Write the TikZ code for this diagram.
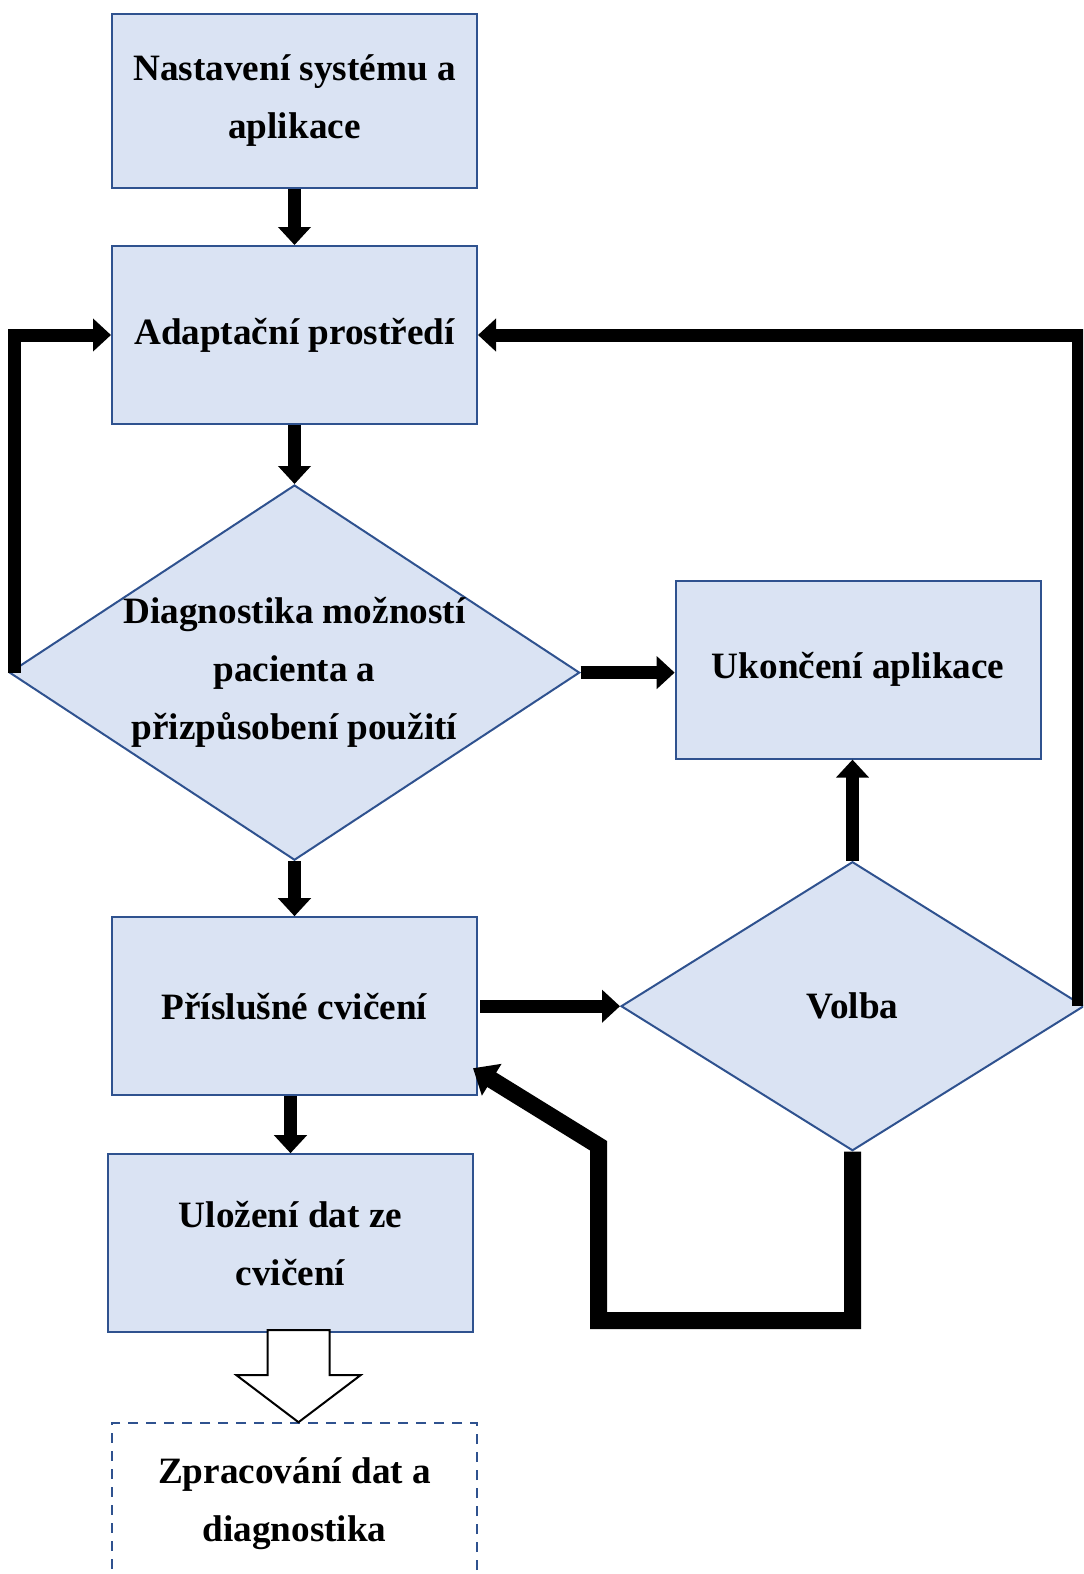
\documentclass[tikz,border=0pt]{standalone}
\usepackage{fontspec}
\setmainfont{Liberation Serif}
\usetikzlibrary{positioning,shapes.geometric,arrows.meta}
\definecolor{boxfill}{HTML}{DAE3F3}
\definecolor{boxline}{HTML}{2F528F}
\tikzset{
	blok/.style={draw=boxline, fill=boxfill, line width=1pt, minimum width=182.5pt, minimum height=89pt, align=center, inner sep=0pt},
	kosoctverec/.style={draw=boxline, fill=boxfill, line width=1pt, diamond, align=center, inner sep=0pt},
	sipka/.style={line width=6.5pt, -{Triangle[width=16pt,length=9pt]}},
	pismo/.style={font=\bfseries\fontsize{18.6}{29}\selectfont}
}

\begin{document}
\begin{tikzpicture}[x=0.5pt, y=-0.5pt, pismo]
	\useasboundingbox (0,0) rectangle (1083,1574);
	\clip (0,0) rectangle (1083,1574);
	\node [blok, minimum height=87pt] (nast) at (294.5,101) {Nastavení systému a\\aplikace};
	\node [blok, below=28pt of nast] (adapt) {Adaptační prostředí};
	\node [kosoctverec, below=29.5pt of adapt, aspect=1.52, minimum width=282pt, minimum height=185.5pt] (diag) {Diagnostika možností\\pacienta a\\přizpůsobení použití};
	\node [blok, below=27.5pt of diag] (cvic) {Příslušné cvičení};
	\node [blok, below=28.5pt of cvic, xshift=-2pt] (uloz) {Uložení dat ze\\cvičení};
	\node [blok, draw=boxline, fill=none, dashed, dash pattern=on 5pt off 4pt, minimum height=80pt, below=44.5pt of uloz, xshift=2pt] (zprac) {Zpracování dat a\\diagnostika};
	\node [blok, right=47pt of diag, yshift=1.5pt] (ukonc) {Ukončení aplikace};
	\node [kosoctverec, right=71pt of cvic, aspect=1.6, minimum width=231.5pt, minimum height=144.5pt] (volba) {Volba};

	% spoje
	\draw [sipka] (nast.south) -- (adapt.north);
	\draw [sipka] (adapt.south) -- (diag.north);
	\draw [sipka] (diag.south) -- (cvic.north);
	\draw [sipka] (cvic.south -| uloz.north) -- (uloz.north);
	\draw [sipka] (diag.east) -- (diag.east -| ukonc.west);
	\draw [sipka] ([xshift=1pt]cvic.east) -- (volba.west);
	\draw [sipka] (volba.north) -- (volba.north |- ukonc.south);
	\draw [sipka] ([xshift=3pt]diag.west) |- (adapt.west);
	\draw [sipka] ([xshift=-3.5pt]volba.east) |- (adapt.east);
	\draw [line width=8.5pt, -{Triangle[width=18pt,length=11pt]}] (volba.south) -- ++(0,169) -- ++(-254,0) -- ++(0,-175) -- ([shift={(-2.5pt,14pt)}]cvic.south east);

	% dutá šipka
	\draw [line width=1pt, fill=white] ([xshift=2pt]zprac.north) -- ++(-62,-47) -- ++(31,0) -- ++(0,-45) -- ++(62,0) -- ++(0,45) -- ++(31,0) -- cycle;
\end{tikzpicture}
\end{document}
